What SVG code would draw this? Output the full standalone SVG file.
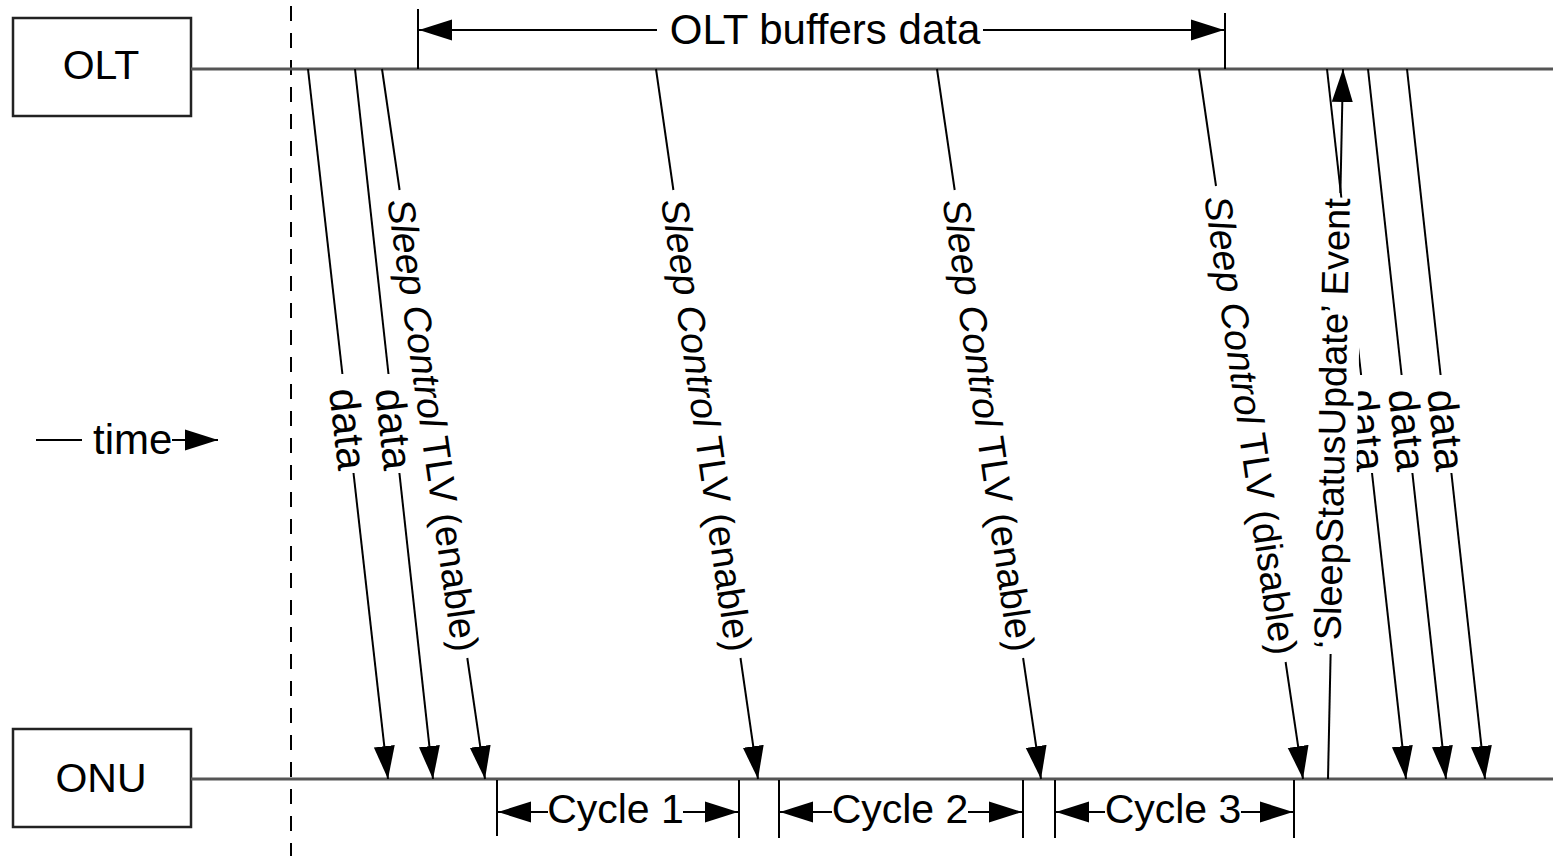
<svg xmlns="http://www.w3.org/2000/svg" width="1553" height="856" viewBox="0 0 1553 856">
<defs>
<style>
text{font-family:"Liberation Sans",Arial,Helvetica,sans-serif;fill:#000}
.box{fill:#fff;stroke:#222;stroke-width:2.5}
.life{stroke:#555;stroke-width:3;fill:none}
.ln{stroke:#000;stroke-width:2;fill:none}
.arr{stroke:#000;stroke-width:2;fill:none;marker-end:url(#ah)}
.h{font-size:41px}
.d{font-size:42px}
.l{font-size:38px}
</style>
<marker id="ah" markerUnits="userSpaceOnUse" markerWidth="34" markerHeight="22" viewBox="0 0 34 22" refX="33" refY="11" orient="auto">
<path d="M0,0.5 L33,11 L0,21.5 z" fill="#000"/>
</marker>
</defs>
<rect width="1553" height="856" fill="#fff"/>

<g id="timeline">
<line x1="291" y1="6" x2="291" y2="856" stroke="#000" stroke-width="2" stroke-dasharray="15 12"/>
</g>

<g id="OLT">
<rect class="box" x="13" y="18" width="178" height="98"/>
<text class="h" x="101" y="79" text-anchor="middle">OLT</text>
<line class="life" x1="191" y1="69" x2="1553" y2="69"/>
</g>

<g id="ONU">
<rect class="box" x="13" y="729" width="178" height="98"/>
<text class="h" x="101" y="792" text-anchor="middle">ONU</text>
<line class="life" x1="191" y1="779" x2="1553" y2="779"/>
</g>

<g id="time">
<line class="ln" x1="36" y1="440" x2="82" y2="440"/>
<text class="h" x="93" y="454" style="font-size:42px">time</text>
<line class="arr" x1="172" y1="440" x2="218" y2="440"/>
</g>

<g id="olt-buffers">
<line class="ln" x1="418" y1="9" x2="418" y2="69"/>
<line class="ln" x1="1225" y1="13" x2="1225" y2="69"/>
<line class="arr" x1="657" y1="30" x2="419" y2="30"/>
<line class="arr" x1="983" y1="30" x2="1224" y2="30"/>
<text class="h" x="825" y="44" text-anchor="middle" style="font-size:42px">OLT buffers data</text>
</g>

<g id="cycles">
<line class="ln" x1="497" y1="780" x2="497" y2="836"/>
<line class="ln" x1="739" y1="780" x2="739" y2="838"/>
<line class="ln" x1="779" y1="780" x2="779" y2="838"/>
<line class="ln" x1="1023" y1="780" x2="1023" y2="838"/>
<line class="ln" x1="1055" y1="780" x2="1055" y2="838"/>
<line class="ln" x1="1294" y1="780" x2="1294" y2="838"/>
<line class="arr" x1="548" y1="812" x2="498" y2="812"/>
<line class="arr" x1="683" y1="812" x2="738" y2="812"/>
<text class="h" x="615.5" y="823" text-anchor="middle">Cycle 1</text>
<line class="arr" x1="832" y1="812" x2="780" y2="812"/>
<line class="arr" x1="968" y1="812" x2="1022" y2="812"/>
<text class="h" x="900" y="823" text-anchor="middle">Cycle 2</text>
<line class="arr" x1="1105" y1="812" x2="1056" y2="812"/>
<line class="arr" x1="1241" y1="812" x2="1293" y2="812"/>
<text class="h" x="1173" y="823" text-anchor="middle">Cycle 3</text>
</g>

<g id="connectors">
<g id="m1">
<line class="ln" x1="308" y1="69" x2="342.4" y2="374"/>
<line class="arr" x1="353.5" y1="473" x2="388" y2="779"/>
<text class="d" transform="translate(348.6,429) rotate(83.57)" x="0" y="15" text-anchor="middle">data</text>
</g>
<g id="m2">
<line class="ln" x1="355" y1="69" x2="388.5" y2="374"/>
<line class="arr" x1="399.4" y1="473" x2="433" y2="779"/>
<text class="d" transform="translate(394.6,429) rotate(83.73)" x="0" y="15" text-anchor="middle">data</text>
</g>
<g id="m3">
<line class="ln" x1="382" y1="69" x2="399.6" y2="190"/>
<line class="arr" x1="467.3" y1="658" x2="485" y2="779"/>
<text class="l" transform="translate(433.6,425) rotate(81.75)" x="0" y="13.6" text-anchor="middle"><tspan font-style="italic">Sleep Control</tspan> TLV (enable)</text>
</g>
<g id="m4">
<line class="ln" x1="656" y1="69" x2="673.4" y2="190"/>
<line class="arr" x1="740.5" y1="658" x2="758" y2="779"/>
<text class="l" transform="translate(707.1,425) rotate(81.82)" x="0" y="13.6" text-anchor="middle"><tspan font-style="italic">Sleep Control</tspan> TLV (enable)</text>
</g>
<g id="m5">
<line class="ln" x1="937" y1="69" x2="954.7" y2="190"/>
<line class="arr" x1="1023.1" y1="658" x2="1041" y2="779"/>
<text class="l" transform="translate(989.1,425) rotate(81.67)" x="0" y="13.6" text-anchor="middle"><tspan font-style="italic">Sleep Control</tspan> TLV (enable)</text>
</g>
<g id="m6">
<line class="ln" x1="1199" y1="69" x2="1216" y2="186"/>
<line class="arr" x1="1285.6" y1="662" x2="1303" y2="779"/>
<text class="l" transform="translate(1251.3,425) rotate(81.67)" x="0" y="13.6" text-anchor="middle"><tspan font-style="italic">Sleep Control</tspan> TLV (disable)</text>
</g>
<g id="m7">
<line class="ln" x1="1327" y1="69" x2="1361.1" y2="375"/>
<line class="arr" x1="1372" y1="473" x2="1406" y2="779"/>
<text class="d" transform="translate(1367.2,430) rotate(83.65)" x="0" y="15" text-anchor="middle">data</text>
</g>
<g id="m8">
<line class="ln" x1="1328" y1="779" x2="1330.6" y2="654"/>
<line class="arr" x1="1340.4" y1="193" x2="1343" y2="69"/>
<g transform="translate(1331.5,423.5) rotate(-88.79)">
<rect x="-226" y="-24" width="452" height="50" fill="#fff"/>
<text class="l" x="0" y="13.6" text-anchor="middle">‘SleepStatusUpdate’ Event</text>
</g>
</g>
<g id="m9">
<line class="ln" x1="1368" y1="69" x2="1401.6" y2="375"/>
<line class="arr" x1="1412.4" y1="473" x2="1446" y2="779"/>
<text class="d" transform="translate(1407.7,430) rotate(83.73)" x="0" y="15" text-anchor="middle">data</text>
</g>
<g id="m10">
<line class="ln" x1="1407" y1="69" x2="1440.6" y2="375"/>
<line class="arr" x1="1451.4" y1="473" x2="1485" y2="779"/>
<text class="d" transform="translate(1446.7,430) rotate(83.73)" x="0" y="15" text-anchor="middle">data</text>
</g>
</g>
</svg>
